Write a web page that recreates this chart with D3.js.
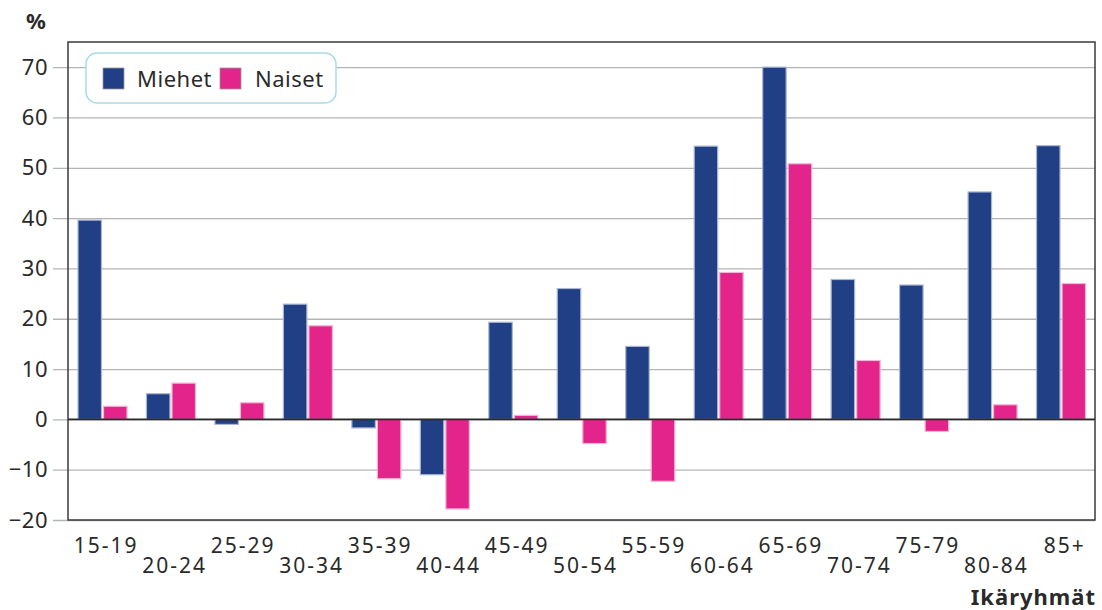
<html>
<head>
<meta charset="utf-8">
<title>Ikäryhmät</title>
<script src="https://cdnjs.cloudflare.com/ajax/libs/d3/7.8.5/d3.min.js"></script>
<style>
body { margin: 0; background: #fff; }
text { font-family: "Noto Sans", "DejaVu Sans", sans-serif; fill: #2a2a2a; }
</style>
</head>
<body>
<svg id="chart" width="1102" height="610"></svg>
<script>
var categories = ['15-19', '20-24', '25-29', '30-34', '35-39', '40-44', '45-49', '50-54',
                  '55-59', '60-64', '65-69', '70-74', '75-79', '80-84', '85+'];
var seriesNames = ['Miehet', 'Naiset'];
var miehet = [39.6, 5.1, -1.0, 22.9, -1.7, -11.0, 19.3, 26.0, 14.5, 54.3, 70.0, 27.8, 26.7, 45.2, 54.4];
var naiset = [2.6, 7.2, 3.3, 18.6, -11.8, -17.8, 0.8, -4.8, -12.3, 29.2, 50.8, 11.7, -2.4, 2.9, 27.0];
var yTicks = [-20, -10, 0, 10, 20, 30, 40, 50, 60, 70];
var colors = { Miehet: '#213f84', Naiset: '#e3248a' };
var strokes = { Miehet: '#aab6d4', Naiset: '#f4b4d2' };

(function () {
var svg = d3.select('#chart');
var pLeft = 68, pRight = 1095, pTop = 42, pBottom = 520;

var x0 = d3.scaleBand().domain(categories).range([pLeft, pRight]);
var x1 = d3.scaleBand().domain(seriesNames).range([10, 59]).paddingInner(0.08);
var y = d3.scaleLinear().domain([-20, 75]).range([pBottom, pTop]);

// grid + y labels
var yAxis = d3.axisLeft(y).tickValues(yTicks).tickSize(pRight - 53).tickPadding(5);
var gy = svg.append('g').attr('transform', 'translate(' + pRight + ',0)').call(yAxis);
gy.select('.domain').remove();
gy.selectAll('line').attr('stroke', '#b4b4b4').attr('stroke-width', 1.3);
gy.selectAll('text').style('font-size', '22px').style('letter-spacing', '0.5px').attr('fill', '#2a2a2a');

// bars
var rows = categories.map(function (c, i) { return { cat: c, Miehet: miehet[i], Naiset: naiset[i] }; });
var groups = svg.append('g').selectAll('g').data(rows).enter().append('g')
    .attr('transform', function (d) { return 'translate(' + x0(d.cat) + ',0)'; });
groups.selectAll('rect')
    .data(function (d) { return seriesNames.map(function (k) { return { key: k, value: d[k] }; }); })
    .enter().append('rect')
    .attr('x', function (d) { return x1(d.key); })
    .attr('width', x1.bandwidth())
    .attr('y', function (d) { return y(Math.max(0, d.value)); })
    .attr('height', function (d) { return Math.abs(y(d.value) - y(0)); })
    .attr('fill', function (d) { return colors[d.key]; })
    .attr('stroke', function (d) { return strokes[d.key]; })
    .attr('stroke-width', 1.2);

// frame and zero line
svg.append('rect').attr('x', pLeft).attr('y', pTop).attr('width', pRight - pLeft).attr('height', pBottom - pTop)
    .attr('fill', 'none').attr('stroke', '#3a3a3a').attr('stroke-width', 1.5);
svg.append('line').attr('x1', pLeft).attr('x2', pRight).attr('y1', y(0)).attr('y2', y(0))
    .attr('stroke', '#2a2a2a').attr('stroke-width', 1.8);

// x labels
var xAxis = d3.axisBottom(x0).tickSize(0);
var gx = svg.append('g').attr('transform', 'translate(0,' + pBottom + ')').call(xAxis);
gx.select('.domain').remove();
gx.selectAll('text')
    .style('font-size', '21px').style('letter-spacing', '2px').attr('fill', '#2a2a2a')
    .attr('dx', 4)
    .attr('dy', 0)
    .attr('y', function (d, i) { return i % 2 === 0 ? 33 : 53; });

// axis titles
svg.append('text').attr('x', 26).attr('y', 29).text('%')
    .style('font-size', '22px').style('font-weight', 'bold');
svg.append('text').attr('x', 1096).attr('y', 605).attr('text-anchor', 'end').text('Ikäryhmät')
    .style('font-size', '22px').style('font-weight', 'bold').style('letter-spacing', '1px');

// legend
var lg = svg.append('g');
lg.append('rect').attr('x', 86).attr('y', 53).attr('width', 250).attr('height', 50).attr('rx', 11)
    .attr('fill', '#fff').attr('stroke', '#a9dcea').attr('stroke-width', 1.5);
var items = [{ k: 'Miehet', sx: 103, tx: 137 }, { k: 'Naiset', sx: 220, tx: 255 }];
items.forEach(function (it) {
    lg.append('rect').attr('x', it.sx).attr('y', 68).attr('width', 21).attr('height', 21)
        .attr('fill', colors[it.k]).attr('stroke', '#999').attr('stroke-width', 0.8);
    lg.append('text').attr('x', it.tx).attr('y', 87).text(it.k)
        .style('font-size', '22px').style('letter-spacing', '0.5px');
});
})();
</script>
</body>
</html>
